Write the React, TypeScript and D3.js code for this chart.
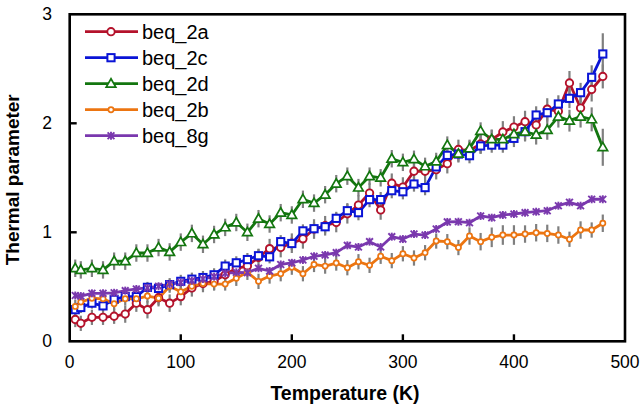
import React from "react";
import * as d3 from "d3";

const temps = [5, 10, 20, 30, 40, 50, 60, 70, 80, 90, 100, 110, 120, 130, 140, 150, 160, 170, 180, 190, 200, 210, 220, 230, 240, 250, 260, 270, 280, 290, 300, 310, 320, 330, 340, 350, 360, 370, 380, 390, 400, 410, 420, 430, 440, 450, 460, 470, 480];

const beq2a = [0.2, 0.165, 0.22, 0.22, 0.23, 0.25, 0.35, 0.29, 0.4, 0.35, 0.41, 0.49, 0.53, 0.55, 0.61, 0.67, 0.69, 0.77, 0.85, 0.86, 0.9, 0.94, 1.03, 1.06, 1.09, 1.17, 1.25, 1.36, 1.205, 1.45, 1.415, 1.56, 1.56, 1.575, 1.63, 1.76, 1.75, 1.81, 1.85, 1.92, 1.965, 2.015, 1.985, 2.13, 2.11, 2.37, 2.14, 2.31, 2.43];
const beq2c = [0.29, 0.31, 0.35, 0.325, 0.385, 0.41, 0.41, 0.495, 0.485, 0.52, 0.55, 0.57, 0.585, 0.61, 0.69, 0.72, 0.75, 0.785, 0.775, 0.914, 0.897, 1.013, 1.033, 1.051, 1.128, 1.198, 1.18, 1.3, 1.3, 1.382, 1.372, 1.443, 1.41, 1.6, 1.706, 1.718, 1.703, 1.792, 1.8, 1.8, 1.862, 1.923, 2.076, 2.097, 2.177, 2.229, 2.281, 2.422, 2.636];
const beq2d = [0.67, 0.655, 0.67, 0.655, 0.735, 0.735, 0.81, 0.81, 0.86, 0.82, 0.91, 0.99, 0.89, 0.98, 1.045, 1.09, 1.0, 1.125, 1.076, 1.18, 1.159, 1.303, 1.268, 1.345, 1.446, 1.515, 1.41, 1.515, 1.5, 1.675, 1.642, 1.67, 1.605, 1.65, 1.8, 1.72, 1.77, 1.929, 1.853, 1.853, 1.9, 1.923, 1.895, 1.939, 2.061, 2.024, 2.061, 2.036, 1.78];
const beq2b = [0.32, 0.36, 0.395, 0.39, 0.345, 0.39, 0.39, 0.415, 0.395, 0.505, 0.455, 0.505, 0.53, 0.525, 0.525, 0.578, 0.633, 0.55, 0.599, 0.62, 0.68, 0.62, 0.705, 0.69, 0.718, 0.675, 0.73, 0.697, 0.78, 0.74, 0.803, 0.764, 0.813, 0.92, 0.914, 0.86, 0.966, 0.914, 0.954, 0.975, 0.975, 0.984, 0.996, 0.99, 0.975, 0.936, 1.021, 1.021, 1.083];
const beq8g = [0.42, 0.415, 0.44, 0.44, 0.445, 0.465, 0.48, 0.49, 0.505, 0.525, 0.54, 0.556, 0.572, 0.593, 0.624, 0.633, 0.63, 0.67, 0.645, 0.705, 0.72, 0.746, 0.78, 0.792, 0.813, 0.88, 0.865, 0.914, 0.865, 0.96, 0.938, 0.984, 0.975, 1.03, 1.095, 1.097, 1.088, 1.15, 1.134, 1.159, 1.168, 1.18, 1.189, 1.198, 1.244, 1.275, 1.244, 1.303, 1.303];

const err2a = [0.07, 0.07, 0.07, 0.07, 0.07, 0.08, 0.08, 0.08, 0.08, 0.08, 0.08, 0.08, 0.08, 0.08, 0.08, 0.08, 0.08, 0.08, 0.09, 0.09, 0.09, 0.09, 0.09, 0.09, 0.09, 0.09, 0.09, 0.09, 0.09, 0.09, 0.09, 0.09, 0.09, 0.09, 0.09, 0.09, 0.09, 0.09, 0.09, 0.1, 0.1, 0.1, 0.1, 0.1, 0.1, 0.11, 0.1, 0.11, 0.11];
const err2c = [0.05, 0.05, 0.05, 0.05, 0.05, 0.05, 0.05, 0.05, 0.05, 0.06, 0.06, 0.06, 0.06, 0.06, 0.06, 0.06, 0.06, 0.06, 0.06, 0.06, 0.06, 0.06, 0.06, 0.06, 0.06, 0.07, 0.07, 0.07, 0.07, 0.07, 0.07, 0.07, 0.07, 0.07, 0.07, 0.07, 0.07, 0.07, 0.07, 0.07, 0.08, 0.08, 0.08, 0.08, 0.08, 0.09, 0.09, 0.11, 0.19];
const err2d = [0.08, 0.08, 0.08, 0.08, 0.08, 0.08, 0.08, 0.08, 0.08, 0.08, 0.08, 0.08, 0.08, 0.08, 0.08, 0.08, 0.08, 0.08, 0.08, 0.08, 0.08, 0.08, 0.08, 0.08, 0.08, 0.08, 0.08, 0.08, 0.08, 0.08, 0.08, 0.08, 0.08, 0.08, 0.08, 0.08, 0.08, 0.08, 0.09, 0.09, 0.09, 0.09, 0.09, 0.09, 0.1, 0.1, 0.1, 0.11, 0.17];
const err2b = [0.06, 0.06, 0.06, 0.06, 0.06, 0.06, 0.06, 0.06, 0.06, 0.06, 0.06, 0.06, 0.06, 0.06, 0.06, 0.07, 0.07, 0.07, 0.07, 0.07, 0.07, 0.07, 0.07, 0.07, 0.07, 0.07, 0.07, 0.07, 0.07, 0.07, 0.07, 0.07, 0.07, 0.07, 0.07, 0.07, 0.08, 0.08, 0.09, 0.09, 0.09, 0.08, 0.08, 0.08, 0.08, 0.07, 0.08, 0.07, 0.08];
const err8g = [0.025, 0.025, 0.025, 0.025, 0.025, 0.025, 0.025, 0.025, 0.025, 0.025, 0.025, 0.025, 0.025, 0.025, 0.025, 0.025, 0.025, 0.025, 0.025, 0.025, 0.025, 0.025, 0.025, 0.025, 0.025, 0.025, 0.025, 0.025, 0.025, 0.025, 0.025, 0.025, 0.025, 0.025, 0.025, 0.025, 0.025, 0.025, 0.025, 0.025, 0.025, 0.025, 0.025, 0.025, 0.025, 0.025, 0.025, 0.025, 0.025];

const seriesNames = ["beq_2a", "beq_2c", "beq_2d", "beq_2b", "beq_8g"];
const xTicks = [0, 100, 200, 300, 400, 500];
const yTicks = [0, 1, 2, 3];

type Marker = "circle" | "square" | "triangle" | "smallCircle" | "star";
const seriesDefs: { name: string; values: number[]; errors: number[]; color: string; marker: Marker }[] = [
  { name: seriesNames[0], values: beq2a, errors: err2a, color: "#B4122B", marker: "circle" },
  { name: seriesNames[1], values: beq2c, errors: err2c, color: "#0A14D6", marker: "square" },
  { name: seriesNames[2], values: beq2d, errors: err2d, color: "#13760F", marker: "triangle" },
  { name: seriesNames[3], values: beq2b, errors: err2b, color: "#EC7511", marker: "smallCircle" },
  { name: seriesNames[4], values: beq8g, errors: err8g, color: "#7A38AE", marker: "star" },
];

const W = 642;
const H = 406;
const L = 69.7, R = 625, T = 14.3, B = 341.3;

function MarkerShape({ type, x, y, color }: { type: Marker; x: number; y: number; color: string }) {
  if (type === "circle") return <circle cx={x} cy={y} r={3.7} fill="#fff" stroke={color} strokeWidth={1.9} />;
  if (type === "smallCircle") return <circle cx={x} cy={y} r={2.6} fill="#fff" stroke={color} strokeWidth={1.7} />;
  if (type === "square") return <rect x={x - 3.6} y={y - 3.6} width={7.2} height={7.2} fill="#fff" stroke={color} strokeWidth={2} />;
  if (type === "triangle") {
    const p = d3.symbol(d3.symbolTriangle, 40)();
    return <path d={p || ""} transform={`translate(${x},${y + 0.6})`} fill="#fff" stroke={color} strokeWidth={1.7} />;
  }
  const s = 3.4;
  return (
    <g stroke={color} strokeWidth={1.9}>
      <line x1={x - s} y1={y - s} x2={x + s} y2={y + s} />
      <line x1={x - s} y1={y + s} x2={x + s} y2={y - s} />
      <line x1={x} y1={y - s - 0.6} x2={x} y2={y + s + 0.6} />
    </g>
  );
}

export default function App() {
  const x = d3.scaleLinear().domain([0, 500]).range([L, R]);
  const y = d3.scaleLinear().domain([0, 3]).range([B, T]);
  const line = d3.line<number>().x((_, i) => x(temps[i])).y((d) => y(d));
  const font = "Arial, 'Liberation Sans', sans-serif";

  return (
    <svg width={W} height={H} style={{ position: "absolute", left: 0, top: 0, background: "#fff" }} fontFamily={font}>
      <rect width={W} height={H} fill="#fff" />
      {seriesDefs.map((s) => (
        <path key={"l" + s.name} d={line(s.values) || ""} fill="none" stroke={s.color} strokeWidth={2.8} strokeLinejoin="round" />
      ))}
      {seriesDefs.map((s) => (
        <g key={"e" + s.name} stroke="#7f7f7f" strokeWidth={2.2}>
          {s.values.map((v, i) => (
            <line key={i} x1={x(temps[i])} x2={x(temps[i])} y1={y(v - s.errors[i])} y2={y(v + s.errors[i])} />
          ))}
        </g>
      ))}
      {seriesDefs.map((s) => (
        <g key={"m" + s.name}>
          {s.values.map((v, i) => (
            <MarkerShape key={i} type={s.marker} x={x(temps[i])} y={y(v)} color={s.color} />
          ))}
        </g>
      ))}
      <rect x={L} y={T} width={R - L} height={B - T} fill="none" stroke="#000" strokeWidth={2.6} />
      {xTicks.slice(1, -1).map((t) => (
        <line key={"xt" + t} x1={x(t)} x2={x(t)} y1={B} y2={B - 7} stroke="#000" strokeWidth={2.4} />
      ))}
      {yTicks.slice(1, -1).map((t) => (
        <line key={"yt" + t} x1={L} x2={L + 7} y1={y(t)} y2={y(t)} stroke="#000" strokeWidth={2.4} />
      ))}
      {xTicks.map((t) => (
        <text key={"xl" + t} x={x(t)} y={368} textAnchor="middle" fontSize={17.5} fill="#000">{t}</text>
      ))}
      {yTicks.map((t) => (
        <text key={"yl" + t} x={52} y={y(t) + 6} textAnchor="end" fontSize={17.5} fill="#000">{t}</text>
      ))}
      <text x={345} y={400} textAnchor="middle" fontSize={19.5} fontWeight="bold" fill="#000">Temperature (K)</text>
      <text transform={`translate(19,${(T + B) / 2 + 2}) rotate(-90)`} textAnchor="middle" fontSize={19} fontWeight="bold" fill="#000">Thermal parameter</text>
      {seriesDefs.map((s, i) => {
        const ly = 31.7 + i * 26;
        return (
          <g key={"lg" + s.name}>
            <line x1={85} x2={138} y1={ly} y2={ly} stroke={s.color} strokeWidth={2.8} />
            <MarkerShape type={s.marker} x={111} y={ly} color={s.color} />
            <text x={142} y={ly + 7} fontSize={20} fill="#000">{s.name}</text>
          </g>
        );
      })}
    </svg>
  );
}
